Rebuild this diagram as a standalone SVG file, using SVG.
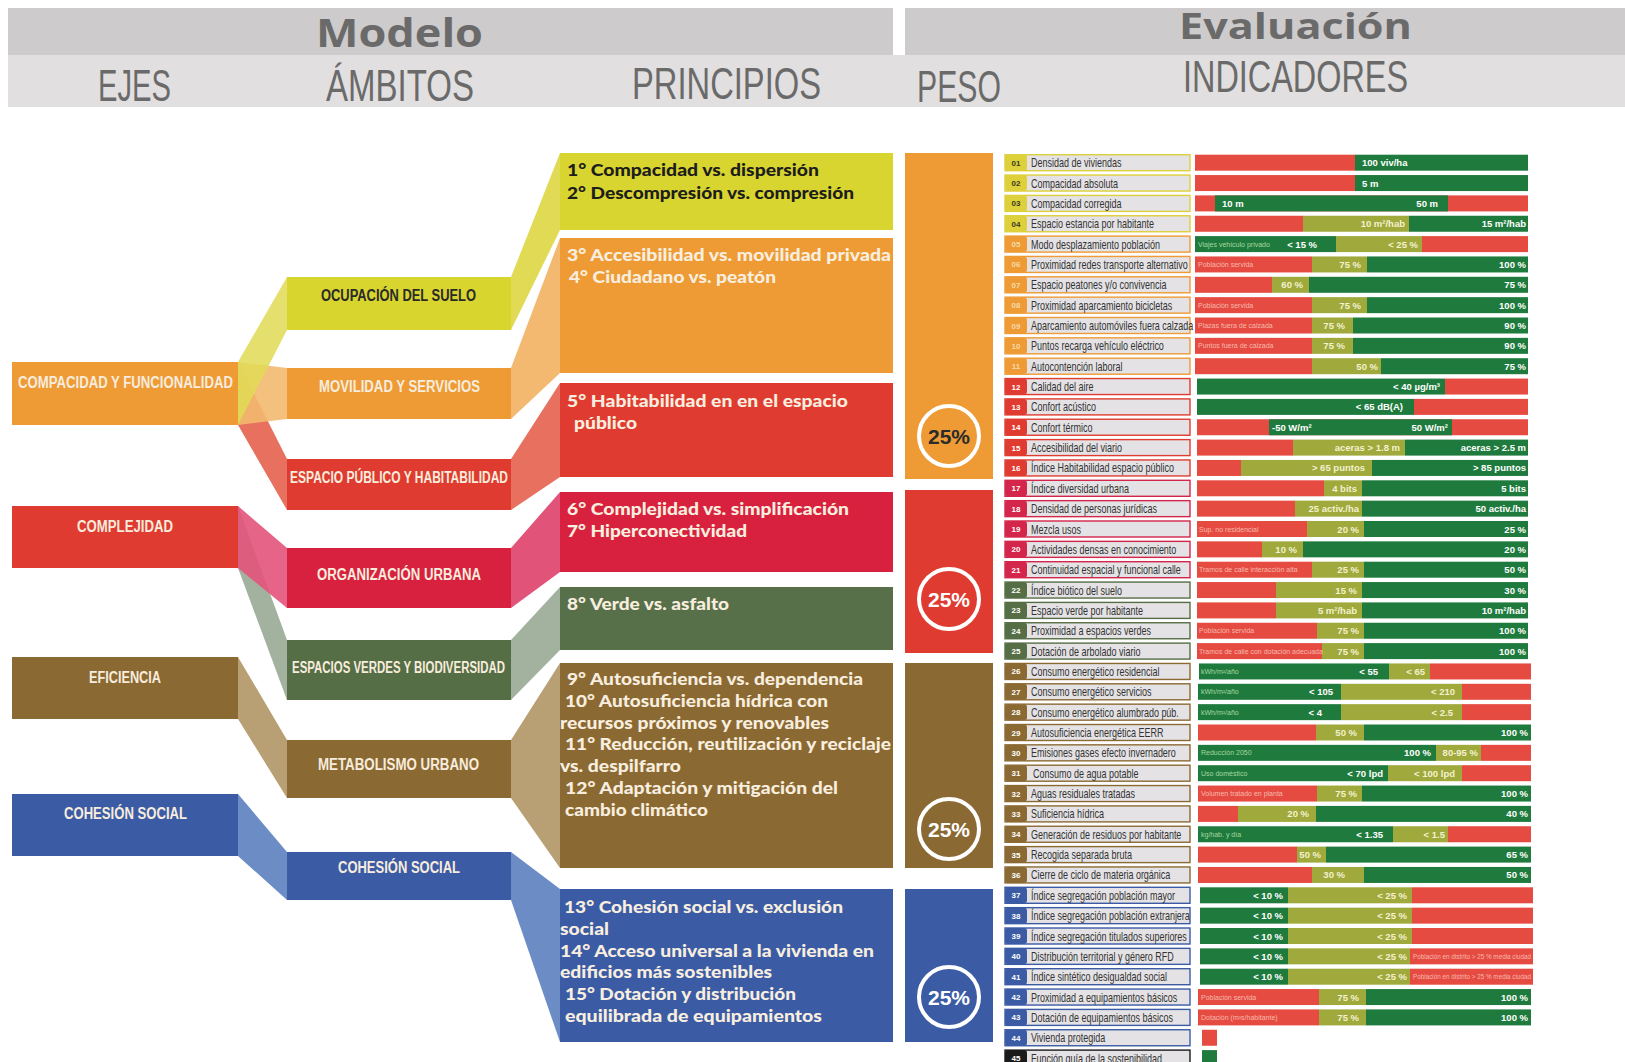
<svg xmlns="http://www.w3.org/2000/svg" width="1625" height="1062" viewBox="0 0 1625 1062">
<style>
.hb{font-family:"Open Sans","Liberation Sans",sans-serif;font-weight:700;font-size:39px;fill:#6B6A6A}
.hl{font-family:"Liberation Sans",Arial,sans-serif;font-weight:400;font-size:44px;fill:#6B6A6A}
.bx{font-family:"Liberation Sans",Arial,sans-serif;font-weight:700;font-size:16px;fill:#F7ECDD}
.pt{font-family:Lato,"Open Sans",sans-serif;font-weight:900;font-size:17.5px;fill:#F8EEDF}
.pc{font-family:"Liberation Sans",Arial,sans-serif;font-weight:700;font-size:21px;fill:#fff;text-anchor:middle}
.lb{fill:#E4E2E4;stroke-width:1.4}
.sY{stroke:#DDD03A}.sO{stroke:#EE9B35}.sR{stroke:#E03B30}.sC{stroke:#D4254A}.sG{stroke:#566E45}.sB{stroke:#8B6933}.sU{stroke:#3B5BA5}.sK{stroke:#1A1A1A}
.fY{fill:#DDD03A}.fO{fill:#EE9B35}.fR{fill:#E03B30}.fC{fill:#D4254A}.fG{fill:#566E45}.fB{fill:#8B6933}.fU{fill:#3B5BA5}.fK{fill:#1A1A1A}
.nt{font-family:"Liberation Sans",Arial,sans-serif;font-weight:700;font-size:8px;fill:#fff;text-anchor:middle}
.lt{font-family:"Liberation Sans",Arial,sans-serif;font-size:12.5px;fill:#333}
.r{fill:#E64B41}.o{fill:#9FA93C}.g{fill:#1F7B3D}
.v{font-family:"Liberation Sans",Arial,sans-serif;font-weight:700;font-size:9.5px;fill:#fff}
.vo{font-family:"Liberation Sans",Arial,sans-serif;font-weight:700;font-size:9.5px;fill:#F4F1CF}
.e{text-anchor:end}
.sr{font-family:"Liberation Sans",Arial,sans-serif;font-size:7px;fill:#F7B9AE}
.sg{font-family:"Liberation Sans",Arial,sans-serif;font-size:7px;fill:#A6D6A0}
.rib{stroke:none}
</style>

<g id="header">
<rect x="8" y="8" width="885" height="47" fill="#CDCBCB"/>
<rect x="905" y="8" width="720" height="47" fill="#CDCBCB"/>
<rect x="8" y="55" width="1617" height="52" fill="#E1DFDF"/>
<text class="hb" x="316" y="46.6" textLength="167" lengthAdjust="spacingAndGlyphs">Modelo</text>
<text class="hb" x="1179" y="38.5" textLength="233" lengthAdjust="spacingAndGlyphs" style="font-size:36px">Evaluación</text>
<text class="hl" x="98" y="100.5" textLength="73" lengthAdjust="spacingAndGlyphs">EJES</text>
<text class="hl" x="326" y="100.5" textLength="148" lengthAdjust="spacingAndGlyphs">ÁMBITOS</text>
<text class="hl" x="632" y="98.5" textLength="189" lengthAdjust="spacingAndGlyphs">PRINCIPIOS</text>
<text class="hl" x="917" y="101.5" textLength="84" lengthAdjust="spacingAndGlyphs">PESO</text>
<text class="hl" x="1183" y="92" textLength="225" lengthAdjust="spacingAndGlyphs">INDICADORES</text>
</g>

<g id="connectors">
<polygon class="rib" fill="#E8705E" points="238,362 287,459 287,510 238,425"/>
<polygon class="rib" fill="#F3B970" opacity="0.9" points="238,362 287,368 287,419 238,425"/>
<polygon class="rib" fill="#E0DA55" opacity="0.85" points="238,362 287,277 287,330 238,425"/>
<polygon class="rib" fill="#A3B29F" points="238,506 287,640 287,700 238,568"/>
<polygon class="rib" fill="#E2537A" opacity="0.9" points="238,506 287,548 287,608 238,568"/>
<polygon class="rib" fill="#B89F74" points="238,657 287,740 287,798 238,719"/>
<polygon class="rib" fill="#6C8CC6" points="238,794 287,852 287,900 238,856"/>
<polygon class="rib" fill="#E0DA55" points="511,277 560,153 560,230 511,330"/>
<polygon class="rib" fill="#F3B970" points="511,368 560,238 560,373 511,419"/>
<polygon class="rib" fill="#E8705E" points="511,459 560,383 560,477 511,510"/>
<polygon class="rib" fill="#E2537A" points="511,548 560,492 560,572 511,608"/>
<polygon class="rib" fill="#A3B29F" points="511,640 560,587 560,650 511,700"/>
<polygon class="rib" fill="#B89F74" points="511,740 560,663 560,868 511,798"/>
<polygon class="rib" fill="#6C8CC6" points="511,852 560,889 560,1042 511,900"/>
</g>

<g id="eje-compacidad"><rect x="12" y="362" width="226" height="63" fill="#EE9B35"/><text class="bx" x="18" y="387.6" textLength="215" lengthAdjust="spacingAndGlyphs">COMPACIDAD Y FUNCIONALIDAD</text></g>
<g id="eje-complejidad"><rect x="12" y="506" width="226" height="62" fill="#E03B30"/><text class="bx" x="77" y="531.7" textLength="96" lengthAdjust="spacingAndGlyphs">COMPLEJIDAD</text></g>
<g id="eje-eficiencia"><rect x="12" y="657" width="226" height="62" fill="#8B6933"/><text class="bx" x="89" y="683" textLength="72" lengthAdjust="spacingAndGlyphs">EFICIENCIA</text></g>
<g id="eje-cohesion"><rect x="12" y="794" width="226" height="62" fill="#3B5BA5"/><text class="bx" x="64" y="818.8" textLength="123" lengthAdjust="spacingAndGlyphs">COHESIÓN SOCIAL</text></g>

<g id="amb-ocupacion"><rect x="287" y="277" width="224" height="53" fill="#D9D52F"/><text class="bx" x="321" y="300.6" textLength="155" lengthAdjust="spacingAndGlyphs" style="fill:#2A2A2A">OCUPACIÓN DEL SUELO</text></g>
<g id="amb-movilidad"><rect x="287" y="368" width="224" height="51" fill="#EE9B35"/><text class="bx" x="319" y="391.8" textLength="161" lengthAdjust="spacingAndGlyphs">MOVILIDAD Y SERVICIOS</text></g>
<g id="amb-espacio"><rect x="287" y="459" width="224" height="51" fill="#E03B30"/><text class="bx" x="290" y="483" textLength="218" lengthAdjust="spacingAndGlyphs">ESPACIO PÚBLICO Y HABITABILIDAD</text></g>
<g id="amb-organizacion"><rect x="287" y="548" width="224" height="60" fill="#D8203F"/><text class="bx" x="317" y="580.4" textLength="164" lengthAdjust="spacingAndGlyphs">ORGANIZACIÓN URBANA</text></g>
<g id="amb-verdes"><rect x="287" y="640" width="224" height="60" fill="#566E45"/><text class="bx" x="292" y="672.6" textLength="213" lengthAdjust="spacingAndGlyphs">ESPACIOS VERDES Y BIODIVERSIDAD</text></g>
<g id="amb-metabolismo"><rect x="287" y="740" width="224" height="58" fill="#8B6933"/><text class="bx" x="318" y="770" textLength="161" lengthAdjust="spacingAndGlyphs">METABOLISMO URBANO</text></g>
<g id="amb-cohesion"><rect x="287" y="852" width="224" height="48" fill="#3B5BA5"/><text class="bx" x="338" y="872.6" textLength="122" lengthAdjust="spacingAndGlyphs">COHESIÓN SOCIAL</text></g>

<g id="pri-1"><rect x="560" y="153" width="333" height="77" fill="#D9D530"/>
<text class="pt" x="567" y="176.3" textLength="252" lengthAdjust="spacingAndGlyphs" style="fill:#1D1D1D">1° Compacidad vs. dispersión</text>
<text class="pt" x="567" y="199" textLength="287" lengthAdjust="spacingAndGlyphs" style="fill:#1D1D1D">2° Descompresión vs. compresión</text></g>
<g id="pri-2"><rect x="560" y="238" width="333" height="135" fill="#EE9B35"/>
<text class="pt" x="567" y="261.2" textLength="324" lengthAdjust="spacingAndGlyphs">3° Accesibilidad vs. movilidad privada</text>
<text class="pt" x="569" y="282.9" textLength="207" lengthAdjust="spacingAndGlyphs">4° Ciudadano vs. peatón</text></g>
<g id="pri-3"><rect x="560" y="383" width="333" height="94" fill="#E03B30"/>
<text class="pt" x="567" y="407.3" textLength="281" lengthAdjust="spacingAndGlyphs">5° Habitabilidad en en el espacio</text>
<text class="pt" x="574" y="429.1" textLength="63" lengthAdjust="spacingAndGlyphs">público</text></g>
<g id="pri-4"><rect x="560" y="492" width="333" height="80" fill="#D8213F"/>
<text class="pt" x="567" y="515.1" textLength="282" lengthAdjust="spacingAndGlyphs">6° Complejidad vs. simplificación</text>
<text class="pt" x="567" y="536.9" textLength="180" lengthAdjust="spacingAndGlyphs">7° Hiperconectividad</text></g>
<g id="pri-5"><rect x="560" y="587" width="333" height="63" fill="#57704A"/>
<text class="pt" x="567" y="610.4" textLength="162" lengthAdjust="spacingAndGlyphs">8° Verde vs. asfalto</text></g>
<g id="pri-6"><rect x="560" y="663" width="333" height="205" fill="#8B6933"/>
<text class="pt" x="567" y="685.1" textLength="296" lengthAdjust="spacingAndGlyphs">9° Autosuficiencia vs. dependencia</text>
<text class="pt" x="565" y="706.8" textLength="263" lengthAdjust="spacingAndGlyphs">10° Autosuficiencia hídrica con</text>
<text class="pt" x="560" y="728.6" textLength="269" lengthAdjust="spacingAndGlyphs">recursos próximos y renovables</text>
<text class="pt" x="565" y="750.4" textLength="326" lengthAdjust="spacingAndGlyphs">11° Reducción, reutilización y reciclaje</text>
<text class="pt" x="560" y="772.1" textLength="121" lengthAdjust="spacingAndGlyphs">vs. despilfarro</text>
<text class="pt" x="565" y="793.9" textLength="273" lengthAdjust="spacingAndGlyphs">12° Adaptación y mitigación del</text>
<text class="pt" x="565" y="815.6" textLength="143" lengthAdjust="spacingAndGlyphs">cambio climático</text></g>
<g id="pri-7"><rect x="560" y="889" width="333" height="153" fill="#3B5BA5"/>
<text class="pt" x="564" y="913.1" textLength="279" lengthAdjust="spacingAndGlyphs">13° Cohesión social vs. exclusión</text>
<text class="pt" x="560" y="934.9" textLength="49" lengthAdjust="spacingAndGlyphs">social</text>
<text class="pt" x="560" y="956.6" textLength="314" lengthAdjust="spacingAndGlyphs">14° Acceso universal a la vivienda en</text>
<text class="pt" x="560" y="978.4" textLength="212" lengthAdjust="spacingAndGlyphs">edificios más sostenibles</text>
<text class="pt" x="565" y="1000.2" textLength="231" lengthAdjust="spacingAndGlyphs">15° Dotación y distribución</text>
<text class="pt" x="565" y="1021.9" textLength="257" lengthAdjust="spacingAndGlyphs">equilibrada de equipamientos</text></g>

<g id="peso-1"><rect x="905" y="153" width="88" height="326" fill="#EE9B35"/><circle cx="949" cy="436" r="30" fill="#EE9B35" stroke="#fff" stroke-width="4"/><text class="pc" x="949" y="444" style="fill:#2B2B2B">25%</text></g>
<g id="peso-2"><rect x="905" y="490" width="88" height="163" fill="#E03B30"/><circle cx="949" cy="599" r="30" fill="#E03B30" stroke="#fff" stroke-width="4"/><text class="pc" x="949" y="607">25%</text></g>
<g id="peso-3"><rect x="905" y="663" width="88" height="205" fill="#8B6933"/><circle cx="949" cy="829" r="30" fill="#8B6933" stroke="#fff" stroke-width="4"/><text class="pc" x="949" y="837">25%</text></g>
<g id="peso-4"><rect x="905" y="889" width="88" height="153" fill="#3B5BA5"/><circle cx="949" cy="997" r="30" fill="#3B5BA5" stroke="#fff" stroke-width="4"/><text class="pc" x="949" y="1005">25%</text></g>

<g id="indicadores">
<g id="ind01" transform="translate(0 162.7)"><rect class="lb sY" x="1005" y="-8" width="185" height="16"/><rect class="fY" x="1005" y="-8" width="22" height="16" rx="3"/><text class="nt" x="1016" y="3" style="fill:#3A3A20">01</text><text class="lt" transform="translate(1031 4.5) scale(0.72 1)">Densidad de viviendas</text>
<rect class="r" x="1195" y="-8" width="160" height="16"/><rect class="g" x="1355" y="-8" width="173" height="16"/><text class="v" x="1362" y="3.5">100 viv/ha</text></g>
<g id="ind02" transform="translate(0 183.05)"><rect class="lb sY" x="1005" y="-8" width="185" height="16"/><rect class="fY" x="1005" y="-8" width="22" height="16" rx="3"/><text class="nt" x="1016" y="3" style="fill:#3A3A20">02</text><text class="lt" transform="translate(1031 4.5) scale(0.72 1)">Compacidad absoluta</text>
<rect class="r" x="1195" y="-8" width="160" height="16"/><rect class="g" x="1355" y="-8" width="173" height="16"/><text class="v" x="1362" y="3.5">5 m</text></g>
<g id="ind03" transform="translate(0 203.4)"><rect class="lb sY" x="1005" y="-8" width="185" height="16"/><rect class="fY" x="1005" y="-8" width="22" height="16" rx="3"/><text class="nt" x="1016" y="3" style="fill:#3A3A20">03</text><text class="lt" transform="translate(1031 4.5) scale(0.72 1)">Compacidad corregida</text>
<rect class="r" x="1195" y="-8" width="333" height="16"/><rect class="g" x="1215" y="-8" width="233" height="16"/><text class="v" x="1222" y="3.5">10 m</text><text class="v e" x="1438" y="3.5">50 m</text></g>
<g id="ind04" transform="translate(0 223.75)"><rect class="lb sY" x="1005" y="-8" width="185" height="16"/><rect class="fY" x="1005" y="-8" width="22" height="16" rx="3"/><text class="nt" x="1016" y="3" style="fill:#3A3A20">04</text><text class="lt" transform="translate(1031 4.5) scale(0.72 1)">Espacio estancia por habitante</text>
<rect class="r" x="1195" y="-8" width="108" height="16"/><rect class="o" x="1303" y="-8" width="106" height="16"/><rect class="g" x="1409" y="-8" width="119" height="16"/><text class="vo e" x="1405" y="3.5">10 m²/hab</text><text class="v e" x="1526" y="3.5">15 m²/hab</text></g>
<g id="ind05" transform="translate(0 244.1)"><rect class="lb sO" x="1005" y="-8" width="185" height="16"/><rect class="fO" x="1005" y="-8" width="22" height="16" rx="3"/><text class="nt" x="1016" y="3" style="fill:#F6D9A8">05</text><text class="lt" transform="translate(1031 4.5) scale(0.72 1)">Modo desplazamiento población</text>
<rect class="g" x="1195" y="-8" width="141" height="16"/><rect class="o" x="1336" y="-8" width="86" height="16"/><rect class="r" x="1422" y="-8" width="106" height="16"/><text class="sg" x="1198" y="2.5">Viajes vehículo privado</text><text class="v e" x="1317" y="3.5">&lt; 15 %</text><text class="vo e" x="1418" y="3.5">&lt; 25 %</text></g>
<g id="ind06" transform="translate(0 264.45)"><rect class="lb sO" x="1005" y="-8" width="185" height="16"/><rect class="fO" x="1005" y="-8" width="22" height="16" rx="3"/><text class="nt" x="1016" y="3" style="fill:#F6D9A8">06</text><text class="lt" transform="translate(1031 4.5) scale(0.72 1)">Proximidad redes transporte alternativo</text>
<rect class="r" x="1195" y="-8" width="117" height="16"/><rect class="o" x="1312" y="-8" width="55" height="16"/><rect class="g" x="1367" y="-8" width="161" height="16"/><text class="sr" x="1198" y="2.5">Población servida</text><text class="vo e" x="1361" y="3.5">75 %</text><text class="v e" x="1526" y="3.5">100 %</text></g>
<g id="ind07" transform="translate(0 284.8)"><rect class="lb sO" x="1005" y="-8" width="185" height="16"/><rect class="fO" x="1005" y="-8" width="22" height="16" rx="3"/><text class="nt" x="1016" y="3" style="fill:#F6D9A8">07</text><text class="lt" transform="translate(1031 4.5) scale(0.72 1)">Espacio peatones y/o convivencia</text>
<rect class="r" x="1195" y="-8" width="77" height="16"/><rect class="o" x="1272" y="-8" width="37" height="16"/><rect class="g" x="1309" y="-8" width="219" height="16"/><text class="vo e" x="1303" y="3.5">60 %</text><text class="v e" x="1526" y="3.5">75 %</text></g>
<g id="ind08" transform="translate(0 305.15)"><rect class="lb sO" x="1005" y="-8" width="185" height="16"/><rect class="fO" x="1005" y="-8" width="22" height="16" rx="3"/><text class="nt" x="1016" y="3" style="fill:#F6D9A8">08</text><text class="lt" transform="translate(1031 4.5) scale(0.72 1)">Proximidad aparcamiento bicicletas</text>
<rect class="r" x="1195" y="-8" width="117" height="16"/><rect class="o" x="1312" y="-8" width="55" height="16"/><rect class="g" x="1367" y="-8" width="161" height="16"/><text class="sr" x="1198" y="2.5">Población servida</text><text class="vo e" x="1361" y="3.5">75 %</text><text class="v e" x="1526" y="3.5">100 %</text></g>
<g id="ind09" transform="translate(0 325.5)"><rect class="lb sO" x="1005" y="-8" width="185" height="16"/><rect class="fO" x="1005" y="-8" width="22" height="16" rx="3"/><text class="nt" x="1016" y="3" style="fill:#F6D9A8">09</text><text class="lt" transform="translate(1031 4.5) scale(0.72 1)">Aparcamiento automóviles fuera calzada</text>
<rect class="r" x="1195" y="-8" width="117" height="16"/><rect class="o" x="1312" y="-8" width="41" height="16"/><rect class="g" x="1353" y="-8" width="175" height="16"/><text class="sr" x="1198" y="2.5">Plazas fuera de calzada</text><text class="vo e" x="1345" y="3.5">75 %</text><text class="v e" x="1526" y="3.5">90 %</text></g>
<g id="ind10" transform="translate(0 345.85)"><rect class="lb sO" x="1005" y="-8" width="185" height="16"/><rect class="fO" x="1005" y="-8" width="22" height="16" rx="3"/><text class="nt" x="1016" y="3" style="fill:#F6D9A8">10</text><text class="lt" transform="translate(1031 4.5) scale(0.72 1)">Puntos recarga vehículo eléctrico</text>
<rect class="r" x="1195" y="-8" width="117" height="16"/><rect class="o" x="1312" y="-8" width="41" height="16"/><rect class="g" x="1353" y="-8" width="175" height="16"/><text class="sr" x="1198" y="2.5">Puntos fuera de calzada</text><text class="vo e" x="1345" y="3.5">75 %</text><text class="v e" x="1526" y="3.5">90 %</text></g>
<g id="ind11" transform="translate(0 366.2)"><rect class="lb sO" x="1005" y="-8" width="185" height="16"/><rect class="fO" x="1005" y="-8" width="22" height="16" rx="3"/><text class="nt" x="1016" y="3" style="fill:#F6D9A8">11</text><text class="lt" transform="translate(1031 4.5) scale(0.72 1)">Autocontención laboral</text>
<rect class="r" x="1195" y="-8" width="117" height="16"/><rect class="o" x="1312" y="-8" width="69" height="16"/><rect class="g" x="1381" y="-8" width="147" height="16"/><text class="vo e" x="1378" y="3.5">50 %</text><text class="v e" x="1526" y="3.5">75 %</text></g>
<g id="ind12" transform="translate(0 386.55)"><rect class="lb sR" x="1005" y="-8" width="185" height="16"/><rect class="fR" x="1005" y="-8" width="22" height="16" rx="3"/><text class="nt" x="1016" y="3">12</text><text class="lt" transform="translate(1031 4.5) scale(0.72 1)">Calidad del aire</text>
<rect class="g" x="1197" y="-8" width="248" height="16"/><rect class="r" x="1445" y="-8" width="83" height="16"/><text class="v e" x="1440" y="3.5">&lt; 40 µg/m³</text></g>
<g id="ind13" transform="translate(0 406.9)"><rect class="lb sR" x="1005" y="-8" width="185" height="16"/><rect class="fR" x="1005" y="-8" width="22" height="16" rx="3"/><text class="nt" x="1016" y="3">13</text><text class="lt" transform="translate(1031 4.5) scale(0.72 1)">Confort acústico</text>
<rect class="g" x="1197" y="-8" width="217" height="16"/><rect class="r" x="1414" y="-8" width="114" height="16"/><text class="v e" x="1403" y="3.5">&lt; 65 dB(A)</text></g>
<g id="ind14" transform="translate(0 427.25)"><rect class="lb sR" x="1005" y="-8" width="185" height="16"/><rect class="fR" x="1005" y="-8" width="22" height="16" rx="3"/><text class="nt" x="1016" y="3">14</text><text class="lt" transform="translate(1031 4.5) scale(0.72 1)">Confort térmico</text>
<rect class="r" x="1197" y="-8" width="331" height="16"/><rect class="g" x="1269" y="-8" width="183" height="16"/><text class="v" x="1272" y="3.5">-50 W/m²</text><text class="v e" x="1448" y="3.5">50 W/m²</text></g>
<g id="ind15" transform="translate(0 447.6)"><rect class="lb sR" x="1005" y="-8" width="185" height="16"/><rect class="fR" x="1005" y="-8" width="22" height="16" rx="3"/><text class="nt" x="1016" y="3">15</text><text class="lt" transform="translate(1031 4.5) scale(0.72 1)">Accesibilidad del viario</text>
<rect class="r" x="1197" y="-8" width="96" height="16"/><rect class="o" x="1293" y="-8" width="112" height="16"/><rect class="g" x="1405" y="-8" width="123" height="16"/><text class="vo e" x="1400" y="3.5">aceras &gt; 1.8 m</text><text class="v e" x="1526" y="3.5">aceras &gt; 2.5 m</text></g>
<g id="ind16" transform="translate(0 467.95)"><rect class="lb sR" x="1005" y="-8" width="185" height="16"/><rect class="fR" x="1005" y="-8" width="22" height="16" rx="3"/><text class="nt" x="1016" y="3">16</text><text class="lt" transform="translate(1031 4.5) scale(0.72 1)">Índice Habitabilidad espacio público</text>
<rect class="r" x="1197" y="-8" width="44" height="16"/><rect class="o" x="1241" y="-8" width="131" height="16"/><rect class="g" x="1372" y="-8" width="156" height="16"/><text class="vo e" x="1365" y="3.5">&gt; 65 puntos</text><text class="v e" x="1526" y="3.5">&gt; 85 puntos</text></g>
<g id="ind17" transform="translate(0 488.3)"><rect class="lb sC" x="1005" y="-8" width="185" height="16"/><rect class="fC" x="1005" y="-8" width="22" height="16" rx="3"/><text class="nt" x="1016" y="3">17</text><text class="lt" transform="translate(1031 4.5) scale(0.72 1)">Índice diversidad urbana</text>
<rect class="r" x="1197" y="-8" width="127" height="16"/><rect class="o" x="1324" y="-8" width="38" height="16"/><rect class="g" x="1362" y="-8" width="166" height="16"/><text class="vo e" x="1357" y="3.5">4 bits</text><text class="v e" x="1526" y="3.5">5 bits</text></g>
<g id="ind18" transform="translate(0 508.65)"><rect class="lb sC" x="1005" y="-8" width="185" height="16"/><rect class="fC" x="1005" y="-8" width="22" height="16" rx="3"/><text class="nt" x="1016" y="3">18</text><text class="lt" transform="translate(1031 4.5) scale(0.72 1)">Densidad de personas jurídicas</text>
<rect class="r" x="1197" y="-8" width="98" height="16"/><rect class="o" x="1295" y="-8" width="67" height="16"/><rect class="g" x="1362" y="-8" width="166" height="16"/><text class="vo e" x="1359" y="3.5">25 activ./ha</text><text class="v e" x="1526" y="3.5">50 activ./ha</text></g>
<g id="ind19" transform="translate(0 529)"><rect class="lb sC" x="1005" y="-8" width="185" height="16"/><rect class="fC" x="1005" y="-8" width="22" height="16" rx="3"/><text class="nt" x="1016" y="3">19</text><text class="lt" transform="translate(1031 4.5) scale(0.72 1)">Mezcla usos</text>
<rect class="r" x="1197" y="-8" width="110" height="16"/><rect class="o" x="1307" y="-8" width="57" height="16"/><rect class="g" x="1364" y="-8" width="164" height="16"/><text class="sr" x="1199" y="2.5">Sup. no residencial</text><text class="vo e" x="1359" y="3.5">20 %</text><text class="v e" x="1526" y="3.5">25 %</text></g>
<g id="ind20" transform="translate(0 549.35)"><rect class="lb sC" x="1005" y="-8" width="185" height="16"/><rect class="fC" x="1005" y="-8" width="22" height="16" rx="3"/><text class="nt" x="1016" y="3">20</text><text class="lt" transform="translate(1031 4.5) scale(0.72 1)">Actividades densas en conocimiento</text>
<rect class="r" x="1197" y="-8" width="65" height="16"/><rect class="o" x="1262" y="-8" width="41" height="16"/><rect class="g" x="1303" y="-8" width="225" height="16"/><text class="vo e" x="1297" y="3.5">10 %</text><text class="v e" x="1526" y="3.5">20 %</text></g>
<g id="ind21" transform="translate(0 569.7)"><rect class="lb sC" x="1005" y="-8" width="185" height="16"/><rect class="fC" x="1005" y="-8" width="22" height="16" rx="3"/><text class="nt" x="1016" y="3">21</text><text class="lt" transform="translate(1031 4.5) scale(0.72 1)">Continuidad espacial y funcional calle</text>
<rect class="r" x="1197" y="-8" width="115" height="16"/><rect class="o" x="1312" y="-8" width="52" height="16"/><rect class="g" x="1364" y="-8" width="164" height="16"/><text class="sr" x="1199" y="2.5">Tramos de calle interacción alta</text><text class="vo e" x="1359" y="3.5">25 %</text><text class="v e" x="1526" y="3.5">50 %</text></g>
<g id="ind22" transform="translate(0 590.05)"><rect class="lb sG" x="1005" y="-8" width="185" height="16"/><rect class="fG" x="1005" y="-8" width="22" height="16" rx="3"/><text class="nt" x="1016" y="3">22</text><text class="lt" transform="translate(1031 4.5) scale(0.72 1)">Índice biótico del suelo</text>
<rect class="r" x="1197" y="-8" width="79" height="16"/><rect class="o" x="1276" y="-8" width="86" height="16"/><rect class="g" x="1362" y="-8" width="166" height="16"/><text class="vo e" x="1357" y="3.5">15 %</text><text class="v e" x="1526" y="3.5">30 %</text></g>
<g id="ind23" transform="translate(0 610.4)"><rect class="lb sG" x="1005" y="-8" width="185" height="16"/><rect class="fG" x="1005" y="-8" width="22" height="16" rx="3"/><text class="nt" x="1016" y="3">23</text><text class="lt" transform="translate(1031 4.5) scale(0.72 1)">Espacio verde por habitante</text>
<rect class="r" x="1197" y="-8" width="79" height="16"/><rect class="o" x="1276" y="-8" width="86" height="16"/><rect class="g" x="1362" y="-8" width="166" height="16"/><text class="vo e" x="1357" y="3.5">5 m²/hab</text><text class="v e" x="1526" y="3.5">10 m²/hab</text></g>
<g id="ind24" transform="translate(0 630.75)"><rect class="lb sG" x="1005" y="-8" width="185" height="16"/><rect class="fG" x="1005" y="-8" width="22" height="16" rx="3"/><text class="nt" x="1016" y="3">24</text><text class="lt" transform="translate(1031 4.5) scale(0.72 1)">Proximidad a espacios verdes</text>
<rect class="r" x="1197" y="-8" width="120" height="16"/><rect class="o" x="1317" y="-8" width="47" height="16"/><rect class="g" x="1364" y="-8" width="164" height="16"/><text class="sr" x="1199" y="2.5">Población servida</text><text class="vo e" x="1359" y="3.5">75 %</text><text class="v e" x="1526" y="3.5">100 %</text></g>
<g id="ind25" transform="translate(0 651.1)"><rect class="lb sG" x="1005" y="-8" width="185" height="16"/><rect class="fG" x="1005" y="-8" width="22" height="16" rx="3"/><text class="nt" x="1016" y="3">25</text><text class="lt" transform="translate(1031 4.5) scale(0.72 1)">Dotación de arbolado viario</text>
<rect class="r" x="1197" y="-8" width="125" height="16"/><rect class="o" x="1322" y="-8" width="42" height="16"/><rect class="g" x="1364" y="-8" width="164" height="16"/><text class="sr" x="1199" y="2.5">Tramos de calle con dotación adecuada</text><text class="vo e" x="1359" y="3.5">75 %</text><text class="v e" x="1526" y="3.5">100 %</text></g>
<g id="ind26" transform="translate(0 671.45)"><rect class="lb sB" x="1005" y="-8" width="185" height="16"/><rect class="fB" x="1005" y="-8" width="22" height="16" rx="3"/><text class="nt" x="1016" y="3">26</text><text class="lt" transform="translate(1031 4.5) scale(0.72 1)">Consumo energético residencial</text>
<rect class="g" x="1199" y="-8" width="190" height="16"/><rect class="o" x="1389" y="-8" width="41" height="16"/><rect class="r" x="1430" y="-8" width="101" height="16"/><text class="sg" x="1201" y="2.5">kWh/m²/año</text><text class="v e" x="1378" y="3.5">&lt; 55</text><text class="vo e" x="1425" y="3.5">&lt; 65</text></g>
<g id="ind27" transform="translate(0 691.8)"><rect class="lb sB" x="1005" y="-8" width="185" height="16"/><rect class="fB" x="1005" y="-8" width="22" height="16" rx="3"/><text class="nt" x="1016" y="3">27</text><text class="lt" transform="translate(1031 4.5) scale(0.72 1)">Consumo energético servicios</text>
<rect class="g" x="1198" y="-8" width="143" height="16"/><rect class="o" x="1341" y="-8" width="121" height="16"/><rect class="r" x="1462" y="-8" width="69" height="16"/><text class="sg" x="1201" y="2.5">kWh/m²/año</text><text class="v e" x="1333" y="3.5">&lt; 105</text><text class="vo e" x="1455" y="3.5">&lt; 210</text></g>
<g id="ind28" transform="translate(0 712.15)"><rect class="lb sB" x="1005" y="-8" width="185" height="16"/><rect class="fB" x="1005" y="-8" width="22" height="16" rx="3"/><text class="nt" x="1016" y="3">28</text><text class="lt" transform="translate(1031 4.5) scale(0.72 1)">Consumo energético alumbrado púb.</text>
<rect class="g" x="1198" y="-8" width="143" height="16"/><rect class="o" x="1341" y="-8" width="121" height="16"/><rect class="r" x="1462" y="-8" width="69" height="16"/><text class="sg" x="1201" y="2.5">kWh/m²/año</text><text class="v e" x="1322" y="3.5">&lt; 4</text><text class="vo e" x="1453" y="3.5">&lt; 2.5</text></g>
<g id="ind29" transform="translate(0 732.5)"><rect class="lb sB" x="1005" y="-8" width="185" height="16"/><rect class="fB" x="1005" y="-8" width="22" height="16" rx="3"/><text class="nt" x="1016" y="3">29</text><text class="lt" transform="translate(1031 4.5) scale(0.72 1)">Autosuficiencia energética EERR</text>
<rect class="r" x="1198" y="-8" width="118" height="16"/><rect class="o" x="1316" y="-8" width="48" height="16"/><rect class="g" x="1364" y="-8" width="167" height="16"/><text class="vo e" x="1357" y="3.5">50 %</text><text class="v e" x="1528" y="3.5">100 %</text></g>
<g id="ind30" transform="translate(0 752.85)"><rect class="lb sB" x="1005" y="-8" width="185" height="16"/><rect class="fB" x="1005" y="-8" width="22" height="16" rx="3"/><text class="nt" x="1016" y="3">30</text><text class="lt" transform="translate(1031 4.5) scale(0.72 1)">Emisiones gases efecto invernadero</text>
<rect class="g" x="1198" y="-8" width="238" height="16"/><rect class="o" x="1436" y="-8" width="45" height="16"/><rect class="r" x="1481" y="-8" width="50" height="16"/><text class="sg" x="1201" y="2.5">Reducción 2050</text><text class="v e" x="1431" y="3.5">100 %</text><text class="vo e" x="1478" y="3.5">80-95 %</text></g>
<g id="ind31" transform="translate(0 773.2)"><rect class="lb sB" x="1005" y="-8" width="185" height="16"/><rect class="fB" x="1005" y="-8" width="22" height="16" rx="3"/><text class="nt" x="1016" y="3">31</text><text class="lt" transform="translate(1033 4.5) scale(0.72 1)">Consumo de agua potable</text>
<rect class="g" x="1198" y="-8" width="190" height="16"/><rect class="o" x="1388" y="-8" width="74" height="16"/><rect class="r" x="1462" y="-8" width="69" height="16"/><text class="sg" x="1201" y="2.5">Uso doméstico</text><text class="v e" x="1383" y="3.5">&lt; 70 lpd</text><text class="vo e" x="1455" y="3.5">&lt; 100 lpd</text></g>
<g id="ind32" transform="translate(0 793.55)"><rect class="lb sB" x="1005" y="-8" width="185" height="16"/><rect class="fB" x="1005" y="-8" width="22" height="16" rx="3"/><text class="nt" x="1016" y="3">32</text><text class="lt" transform="translate(1031 4.5) scale(0.72 1)">Aguas residuales tratadas</text>
<rect class="r" x="1198" y="-8" width="119" height="16"/><rect class="o" x="1317" y="-8" width="45" height="16"/><rect class="g" x="1362" y="-8" width="169" height="16"/><text class="sr" x="1201" y="2.5">Volumen tratado en planta</text><text class="vo e" x="1357" y="3.5">75 %</text><text class="v e" x="1528" y="3.5">100 %</text></g>
<g id="ind33" transform="translate(0 813.9)"><rect class="lb sB" x="1005" y="-8" width="185" height="16"/><rect class="fB" x="1005" y="-8" width="22" height="16" rx="3"/><text class="nt" x="1016" y="3">33</text><text class="lt" transform="translate(1031 4.5) scale(0.72 1)">Suficiencia hídrica</text>
<rect class="r" x="1198" y="-8" width="40" height="16"/><rect class="o" x="1238" y="-8" width="78" height="16"/><rect class="g" x="1316" y="-8" width="215" height="16"/><text class="vo e" x="1309" y="3.5">20 %</text><text class="v e" x="1528" y="3.5">40 %</text></g>
<g id="ind34" transform="translate(0 834.25)"><rect class="lb sB" x="1005" y="-8" width="185" height="16"/><rect class="fB" x="1005" y="-8" width="22" height="16" rx="3"/><text class="nt" x="1016" y="3">34</text><text class="lt" transform="translate(1031 4.5) scale(0.72 1)">Generación de residuos por habitante</text>
<rect class="g" x="1198" y="-8" width="195" height="16"/><rect class="o" x="1393" y="-8" width="55" height="16"/><rect class="r" x="1448" y="-8" width="83" height="16"/><text class="sg" x="1201" y="2.5">kg/hab. y día</text><text class="v e" x="1383" y="3.5">&lt; 1.35</text><text class="vo e" x="1445" y="3.5">&lt; 1.5</text></g>
<g id="ind35" transform="translate(0 854.6)"><rect class="lb sB" x="1005" y="-8" width="185" height="16"/><rect class="fB" x="1005" y="-8" width="22" height="16" rx="3"/><text class="nt" x="1016" y="3">35</text><text class="lt" transform="translate(1031 4.5) scale(0.72 1)">Recogida separada bruta</text>
<rect class="r" x="1198" y="-8" width="99" height="16"/><rect class="o" x="1297" y="-8" width="29" height="16"/><rect class="g" x="1326" y="-8" width="205" height="16"/><text class="vo e" x="1321" y="3.5">50 %</text><text class="v e" x="1528" y="3.5">65 %</text></g>
<g id="ind36" transform="translate(0 874.95)"><rect class="lb sB" x="1005" y="-8" width="185" height="16"/><rect class="fB" x="1005" y="-8" width="22" height="16" rx="3"/><text class="nt" x="1016" y="3">36</text><text class="lt" transform="translate(1031 4.5) scale(0.72 1)">Cierre de ciclo de materia orgánica</text>
<rect class="r" x="1198" y="-8" width="114" height="16"/><rect class="o" x="1312" y="-8" width="52" height="16"/><rect class="g" x="1364" y="-8" width="167" height="16"/><text class="vo e" x="1345" y="3.5">30 %</text><text class="v e" x="1528" y="3.5">50 %</text></g>
<g id="ind37" transform="translate(0 895.3)"><rect class="lb sU" x="1005" y="-8" width="185" height="16"/><rect class="fU" x="1005" y="-8" width="22" height="16" rx="3"/><text class="nt" x="1016" y="3">37</text><text class="lt" transform="translate(1031 4.5) scale(0.72 1)">Índice segregación población mayor</text>
<rect class="g" x="1200" y="-8" width="88" height="16"/><rect class="o" x="1288" y="-8" width="124" height="16"/><rect class="r" x="1412" y="-8" width="121" height="16"/><text class="v e" x="1283" y="3.5">&lt; 10 %</text><text class="vo e" x="1407" y="3.5">&lt; 25 %</text></g>
<g id="ind38" transform="translate(0 915.65)"><rect class="lb sU" x="1005" y="-8" width="185" height="16"/><rect class="fU" x="1005" y="-8" width="22" height="16" rx="3"/><text class="nt" x="1016" y="3">38</text><text class="lt" transform="translate(1031 4.5) scale(0.72 1)">Índice segregación población extranjera</text>
<rect class="g" x="1200" y="-8" width="88" height="16"/><rect class="o" x="1288" y="-8" width="124" height="16"/><rect class="r" x="1412" y="-8" width="121" height="16"/><text class="v e" x="1283" y="3.5">&lt; 10 %</text><text class="vo e" x="1407" y="3.5">&lt; 25 %</text></g>
<g id="ind39" transform="translate(0 936)"><rect class="lb sU" x="1005" y="-8" width="185" height="16"/><rect class="fU" x="1005" y="-8" width="22" height="16" rx="3"/><text class="nt" x="1016" y="3">39</text><text class="lt" transform="translate(1031 4.5) scale(0.72 1)">Índice segregación titulados superiores</text>
<rect class="g" x="1200" y="-8" width="88" height="16"/><rect class="o" x="1288" y="-8" width="124" height="16"/><rect class="r" x="1412" y="-8" width="121" height="16"/><text class="v e" x="1283" y="3.5">&lt; 10 %</text><text class="vo e" x="1407" y="3.5">&lt; 25 %</text></g>
<g id="ind40" transform="translate(0 956.35)"><rect class="lb sU" x="1005" y="-8" width="185" height="16"/><rect class="fU" x="1005" y="-8" width="22" height="16" rx="3"/><text class="nt" x="1016" y="3">40</text><text class="lt" transform="translate(1031 4.5) scale(0.72 1)">Distribución territorial y género RFD</text>
<rect class="g" x="1200" y="-8" width="88" height="16"/><rect class="o" x="1288" y="-8" width="122" height="16"/><rect class="r" x="1410" y="-8" width="123" height="16"/><text class="v e" x="1283" y="3.5">&lt; 10 %</text><text class="vo e" x="1407" y="3.5">&lt; 25 %</text><text class="sr" x="1413" y="2.5" textLength="118" lengthAdjust="spacingAndGlyphs">Población en distrito &gt; 25 % media ciudad</text></g>
<g id="ind41" transform="translate(0 976.7)"><rect class="lb sU" x="1005" y="-8" width="185" height="16"/><rect class="fU" x="1005" y="-8" width="22" height="16" rx="3"/><text class="nt" x="1016" y="3">41</text><text class="lt" transform="translate(1031 4.5) scale(0.72 1)">Índice sintético desigualdad social</text>
<rect class="g" x="1200" y="-8" width="88" height="16"/><rect class="o" x="1288" y="-8" width="122" height="16"/><rect class="r" x="1410" y="-8" width="123" height="16"/><text class="v e" x="1283" y="3.5">&lt; 10 %</text><text class="vo e" x="1407" y="3.5">&lt; 25 %</text><text class="sr" x="1413" y="2.5" textLength="118" lengthAdjust="spacingAndGlyphs">Población en distrito &gt; 25 % media ciudad</text></g>
<g id="ind42" transform="translate(0 997.05)"><rect class="lb sU" x="1005" y="-8" width="185" height="16"/><rect class="fU" x="1005" y="-8" width="22" height="16" rx="3"/><text class="nt" x="1016" y="3">42</text><text class="lt" transform="translate(1031 4.5) scale(0.72 1)">Proximidad a equipamientos básicos</text>
<rect class="r" x="1198" y="-8" width="121" height="16"/><rect class="o" x="1319" y="-8" width="47" height="16"/><rect class="g" x="1366" y="-8" width="165" height="16"/><text class="sr" x="1201" y="2.5">Población servida</text><text class="vo e" x="1359" y="3.5">75 %</text><text class="v e" x="1528" y="3.5">100 %</text></g>
<g id="ind43" transform="translate(0 1017.4)"><rect class="lb sU" x="1005" y="-8" width="185" height="16"/><rect class="fU" x="1005" y="-8" width="22" height="16" rx="3"/><text class="nt" x="1016" y="3">43</text><text class="lt" transform="translate(1031 4.5) scale(0.72 1)">Dotación de equipamientos básicos</text>
<rect class="r" x="1198" y="-8" width="121" height="16"/><rect class="o" x="1319" y="-8" width="47" height="16"/><rect class="g" x="1366" y="-8" width="165" height="16"/><text class="sr" x="1201" y="2.5">Dotación (m²s/habitante)</text><text class="vo e" x="1359" y="3.5">75 %</text><text class="v e" x="1528" y="3.5">100 %</text></g>
<g id="ind44" transform="translate(0 1037.75)"><rect class="lb sU" x="1005" y="-8" width="185" height="16"/><rect class="fU" x="1005" y="-8" width="22" height="16" rx="3"/><text class="nt" x="1016" y="3">44</text><text class="lt" transform="translate(1031 4.5) scale(0.72 1)">Vivienda protegida</text>
<rect class="r" x="1202" y="-8" width="15" height="16"/></g>
<g id="ind45" transform="translate(0 1058.1)"><rect class="lb sK" x="1005" y="-8" width="185" height="16"/><rect class="fK" x="1005" y="-8" width="22" height="16" rx="3"/><text class="nt" x="1016" y="3">45</text><text class="lt" transform="translate(1031 4.5) scale(0.72 1)">Función guía de la sostenibilidad</text>
<rect class="g" x="1202" y="-8" width="15" height="16"/></g>
</g>
</svg>
